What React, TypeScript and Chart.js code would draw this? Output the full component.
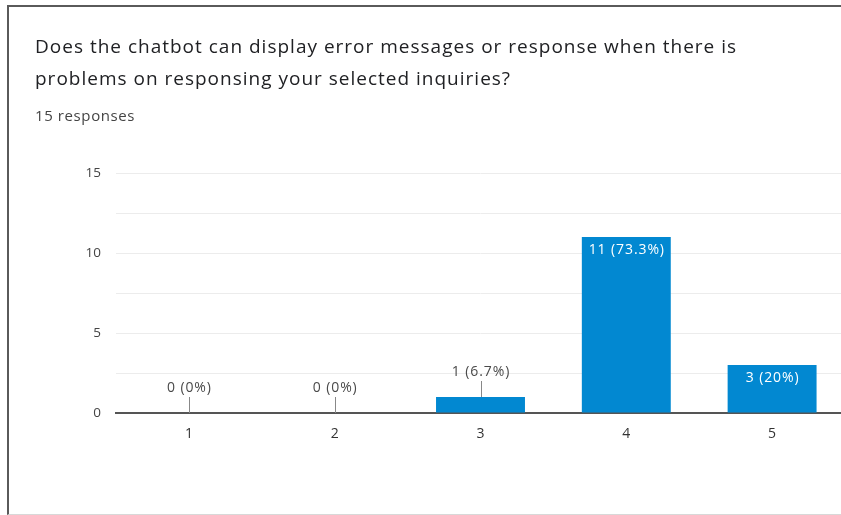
import React, { useEffect, useRef } from "react";
import { Chart, registerables } from "chart.js";

Chart.register(...registerables);

const categories = ["1", "2", "3", "4", "5"];
const counts = [0, 0, 1, 11, 3];
const percents = ["0%", "0%", "6.7%", "73.3%", "20%"];
const yTickLabels = [0, 5, 10, 15];
const titleLines = [
  "Does the chatbot can display error messages or response when there is",
  "problems on responsing your selected inquiries?",
];
const subtitle = "15 responses";

const BAR_COLOR = "#0288d1";
const FONT = "'Open Sans', 'Liberation Sans', Arial, sans-serif";

const labelPlugin = {
  id: "barLabels",
  afterDatasetsDraw(chart: any) {
    const ctx = chart.ctx;
    const meta = chart.getDatasetMeta(0);
    ctx.save();
    ctx.font = `14px ${FONT}`;
    (ctx as any).letterSpacing = "0.9px";
    ctx.textAlign = "center";
    ctx.textBaseline = "middle";
    meta.data.forEach((bar: any, i: number) => {
      const text = `${counts[i]} (${percents[i]})`;
      const h = bar.base - bar.y;
      if (h > 30) {
        ctx.fillStyle = "#ffffff";
        ctx.fillText(text, bar.x + 0.5, bar.y + 13);
      } else {
        ctx.strokeStyle = "#888888";
        ctx.lineWidth = 1;
        ctx.beginPath();
        ctx.moveTo(Math.round(bar.x) + 0.5, bar.y);
        ctx.lineTo(Math.round(bar.x) + 0.5, bar.y - 16);
        ctx.stroke();
        ctx.fillStyle = "#4a4a4a";
        ctx.fillText(text, bar.x + 0.5, bar.y - 25);
      }
    });
    ctx.restore();
  },
};

export default function App() {
  const canvasRef = useRef<HTMLCanvasElement>(null);

  useEffect(() => {
    document.body.style.margin = "0";
    const chart = new Chart(canvasRef.current!, {
      type: "bar",
      data: {
        labels: categories,
        datasets: [
          {
            data: counts,
            backgroundColor: BAR_COLOR,
            barPercentage: 0.61,
            categoryPercentage: 1,
          },
        ],
      },
      options: {
        animation: false,
        responsive: false,
        maintainAspectRatio: false,
        layout: { padding: { top: 173, right: 25, bottom: 0, left: 0 } },
        plugins: {
          legend: { display: false },
          tooltip: { enabled: false },
          title: { display: false },
        },
        scales: {
          x: {
            grid: { display: false },
            border: { display: true, color: "#555555", width: 2 },
            ticks: {
              color: "#333333",
              font: { family: FONT, size: 14 },
              padding: 5,
            },
            afterFit(scale: any) {
              scale.height = 102;
            },
          },
          y: {
            min: 0,
            max: 15,
            border: { display: false },
            grid: {
              drawTicks: false,
              color: (c: any) => (c.tick && c.tick.value === 0 ? "rgba(0,0,0,0)" : "#ececec"),
              lineWidth: 1,
            },
            ticks: {
              stepSize: 2.5,
              autoSkip: false,
              padding: 15,
              color: "#444444",
              font: { family: FONT, size: 13.5 },
              callback: (v: any) => (yTickLabels.includes(Number(v)) ? String(v) : ""),
            },
            afterFit(scale: any) {
              scale.width = 116;
            },
          },
        },
      },
      plugins: [labelPlugin],
    });
    return () => chart.destroy();
  }, []);

  return (
    <div style={{ position: "relative", width: 841, height: 515, overflow: "hidden", background: "#fff" }}>
      <canvas ref={canvasRef} width={870} height={515} style={{ position: "absolute", left: 0, top: 0 }} />
      <div
        style={{
          position: "absolute",
          left: 7,
          top: 5,
          width: 900,
          height: 507,
          borderLeft: "2px solid #5a5a5a",
          borderTop: "2px solid #5a5a5a",
          borderBottom: "1px solid #d8d8d8",
          pointerEvents: "none",
        }}
      />
      <div
        style={{
          position: "absolute",
          left: 35,
          top: 30,
          fontFamily: FONT,
          fontSize: 19,
          letterSpacing: 1.0,
          lineHeight: "32px",
          color: "#202124",
          whiteSpace: "nowrap",
        }}
      >
        <div>{titleLines[0]}</div>
        <div>{titleLines[1]}</div>
      </div>
      <div
        style={{
          position: "absolute",
          left: 35,
          top: 105,
          fontFamily: FONT,
          fontSize: 15,
          letterSpacing: 0.6,
          color: "#444",
          whiteSpace: "nowrap",
        }}
      >
        {subtitle}
      </div>
    </div>
  );
}
